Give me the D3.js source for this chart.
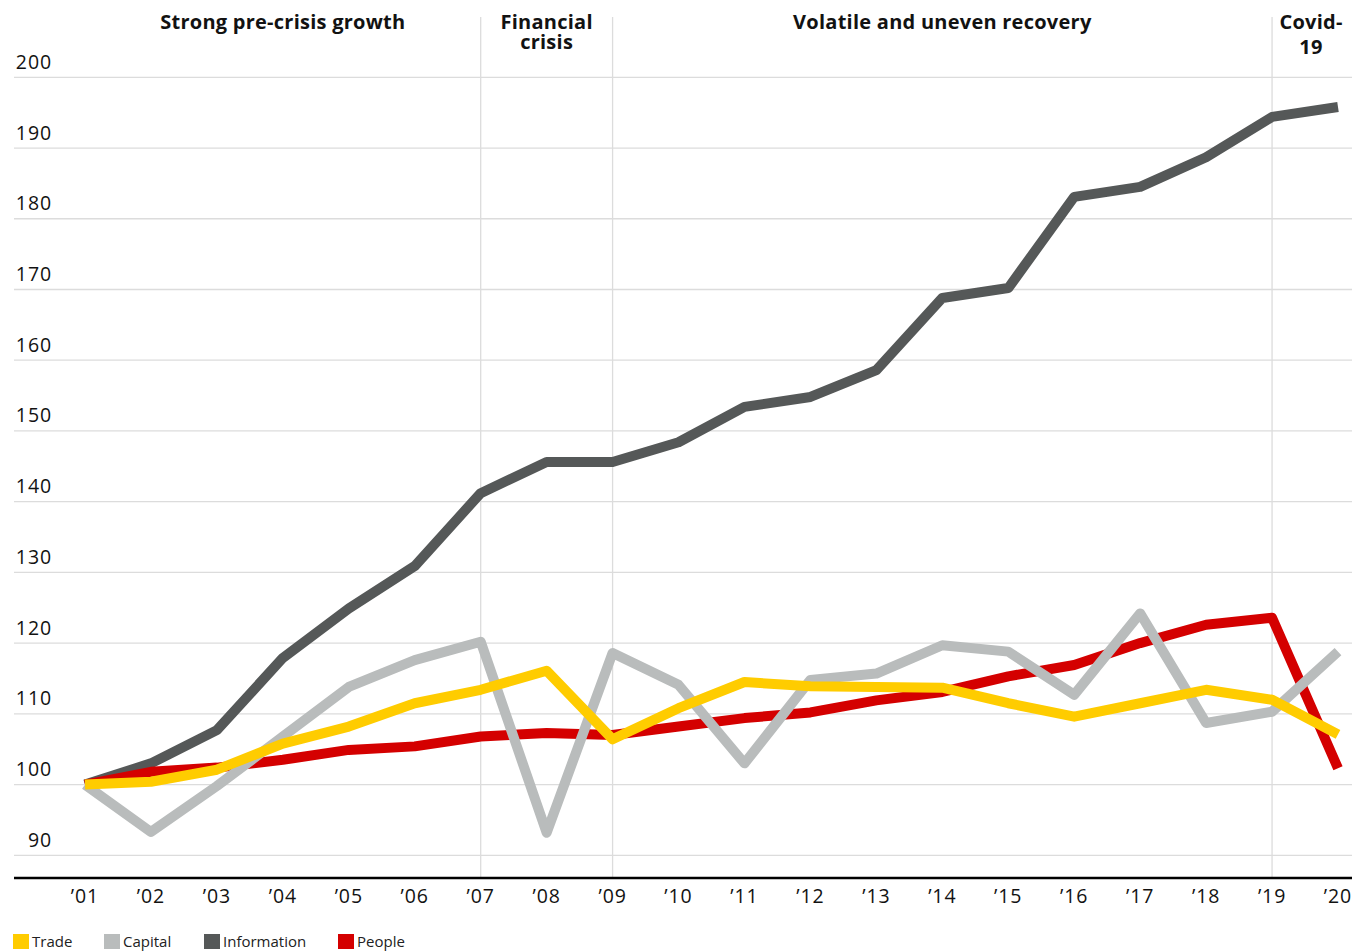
<!DOCTYPE html>
<html>
<head>
<meta charset="utf-8">
<script src="https://cdn.jsdelivr.net/npm/d3@7.9.0/dist/d3.min.js"></script>
<style>
  body { margin: 0; background: #fff; }
  svg { display: block; font-family: 'Open Sans', sans-serif; }
</style>
</head>
<body>
<svg id="chart" width="1372" height="951"></svg>
<script>
const years = ['01', '02', '03', '04', '05', '06', '07', '08', '09', '10',
  '11', '12', '13', '14', '15', '16', '17', '18', '19', '20'];

const information = [100, 103, 107.7, 117.9, 124.9, 130.9, 141.2, 145.6, 145.6, 148.4,
  153.4, 154.8, 158.6, 168.8, 170.2, 183.1, 184.5, 188.7, 194.4, 195.8];
const people = [100, 101.8, 102.4, 103.5, 104.9, 105.4, 106.8, 107.3, 107, 108.2,
  109.4, 110.2, 111.9, 113.1, 115.3, 116.9, 120, 122.6, 123.6, 102.3];
const capital = [100, 93.3, 99.8, 106.8, 113.8, 117.6, 120.2, 93.2, 118.6, 114.1,
  103, 114.8, 115.7, 119.7, 118.8, 112.7, 124.2, 108.7, 110.3, 118.8];
const trade = [100, 100.4, 102.1, 105.8, 108.2, 111.5, 113.4, 116.1, 106.4, 110.8,
  114.5, 113.9, 113.8, 113.7, 111.5, 109.6, 111.5, 113.4, 112, 107.1];

const yTicks = [90, 100, 110, 120, 130, 140, 150, 160, 170, 180, 190, 200];
const periodYears = ['07', '09', '19'];

// drawing order: bottom first
const series = [
  { name: 'Information', values: information, color: '#555858' },
  { name: 'People', values: people, color: '#d40000' },
  { name: 'Capital', values: capital, color: '#b9bcbc' },
  { name: 'Trade', values: trade, color: '#ffcc00' },
];
const legendOrder = ['Trade', 'Capital', 'Information', 'People'];

const periods = [
  { lines: ['Strong pre-crisis growth'], from: '01', to: '07', gap: 20 },
  { lines: ['Financial', 'crisis'], from: '07', to: '09', gap: 20.5 },
  { lines: ['Volatile and uneven recovery'], from: '09', to: '19', gap: 20 },
  { lines: ['Covid-', '19'], from: '19', to: '20', cx: 1311, gap: 25 },
];

const svg = d3.select('#chart');
const left = 14, right = 1352, axisY = 878;

const x = d3.scalePoint().domain(years).range([85, 1338]);
const y = d3.scaleLinear().domain([90, 200]).range([855.3, 77.3]);

// horizontal gridlines
svg.append('g')
  .selectAll('line')
  .data(yTicks)
  .join('line')
  .attr('x1', left).attr('x2', right)
  .attr('y1', (d) => y(d)).attr('y2', (d) => y(d))
  .attr('stroke', '#dcdcdc').attr('stroke-width', 1.3);

// y labels
svg.append('g')
  .selectAll('text')
  .data(yTicks)
  .join('text')
  .attr('x', 52)
  .attr('y', (d) => y(d) - 8.5)
  .attr('text-anchor', 'end')
  .attr('font-size', 19.5)
  .attr('letter-spacing', 0.9)
  .attr('fill', '#121212')
  .text((d) => d);

// vertical period separators
svg.append('g')
  .selectAll('line')
  .data(periodYears)
  .join('line')
  .attr('x1', (d) => x(d)).attr('x2', (d) => x(d))
  .attr('y1', 17).attr('y2', axisY)
  .attr('stroke', '#dcdcdc').attr('stroke-width', 1.3);

// period titles
periods.forEach((p) => {
  const cx = p.cx || (x(p.from) + x(p.to)) / 2;
  const t = svg.append('text')
    .attr('text-anchor', 'middle')
    .attr('font-size', 20)
    .attr('font-weight', 700)
    .attr('letter-spacing', 0.25)
    .attr('fill', '#121212');
  p.lines.forEach((line, i) => {
    t.append('tspan')
      .attr('x', cx)
      .attr('y', 28.5 + i * p.gap)
      .text(line);
  });
});

// lines
const lineGen = d3.line()
  .x((d, i) => x(years[i]))
  .y((d) => y(d));

svg.append('g')
  .selectAll('path')
  .data(series)
  .join('path')
  .attr('d', (d) => lineGen(d.values))
  .attr('fill', 'none')
  .attr('stroke', (d) => d.color)
  .attr('stroke-width', 10)
  .attr('stroke-linejoin', 'round')
  .attr('stroke-linecap', 'butt');

// x axis
svg.append('line')
  .attr('x1', left).attr('x2', right)
  .attr('y1', axisY).attr('y2', axisY)
  .attr('stroke', '#000').attr('stroke-width', 2.5);

svg.append('g')
  .selectAll('text')
  .data(years)
  .join('text')
  .attr('x', (d) => x(d))
  .attr('y', 903)
  .attr('text-anchor', 'middle')
  .attr('font-size', 19.5)
  .attr('letter-spacing', 0.9)
  .attr('fill', '#121212')
  .text((d) => '\u2019' + d);

// legend
const legendX = [13, 104, 204, 338];
const legend = svg.append('g')
  .selectAll('g')
  .data(legendOrder)
  .join('g')
  .attr('transform', (d, i) => `translate(${legendX[i]},934)`);

legend.append('rect')
  .attr('width', 16).attr('height', 15)
  .attr('fill', (d) => series.find((s) => s.name === d).color);

legend.append('text')
  .attr('x', 19).attr('y', 13)
  .attr('font-size', 15)
  .attr('fill', '#222')
  .text((d) => d);
</script>
</body>
</html>
